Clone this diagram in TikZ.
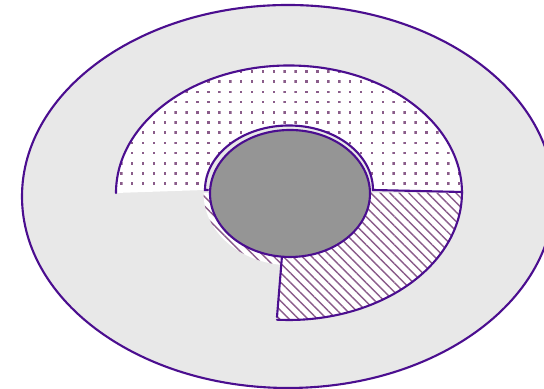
\documentclass[tikz,border=0pt]{standalone}
\usetikzlibrary{patterns.meta, calc}
\definecolor{cline}{HTML}{4B0E8F}
\definecolor{cpat}{HTML}{8A5C8A}
\definecolor{cback}{HTML}{E8E8E8}
\definecolor{ccore}{HTML}{959595}
\tikzdeclarepattern{
  name=sqdots, type=uncolored,
  bounding box={(0,0) and (0.75pt,0.75pt)},
  tile size={(3.1pt,2.9pt)},
  code={\fill (0,0) rectangle (0.75pt,0.75pt);}
}
\tikzset{
  every picture/.style={line width=0.6pt},
  ring/.style={draw=cline, fill=cback},
  core/.style={draw=cline, fill=ccore},
  edge/.style={draw=cline, line cap=round},
  dotsec/.style={fill=white, postaction={pattern=sqdots, pattern color=cpat}},
  hatchsec/.style={fill=white, postaction={pattern={Lines[angle=-45, distance=1.9pt, line width=0.4pt]}, pattern color=cpat}},
}
\begin{document}
\begin{tikzpicture}[x=0.01cm, y=0.01cm]
  \useasboundingbox (0,0) rectangle (544,-389);
  \coordinate (c) at (289,-192.5);
  % outer ring
  \draw[ring] (288,-196.5) ellipse[x radius=266, y radius=191.5];
  % hatched sector
  \path[hatchsec] ($(c)+(173,0)$) arc[start angle=0, end angle=-94, x radius=173, y radius=127.5]
    -- (282,-256) arc[start angle=-85, end angle=0, x radius=80, y radius=63.5] -- cycle;
  \path[hatchsec] (210,-193) arc[start angle=180, end angle=265, x radius=80, y radius=63.5]
    -- (283,-265) arc[start angle=265, end angle=180, x radius=87, y radius=72] -- cycle;
  \draw[edge] ($(c)+(173,0)$) arc[start angle=0, end angle=-94, x radius=173, y radius=127.5];
  \draw[edge] (277,-317) -- (282,-256);
  % dotted sector
  \path[dotsec] (116,-193) arc[start angle=180, end angle=0, x radius=173, y radius=127.5]
    -- (373,-190) arc[start angle=0, end angle=180, x radius=84, y radius=64.5] -- cycle;
  \draw[edge] (116,-193) arc[start angle=180, end angle=0, x radius=173, y radius=127.5];
  \draw[edge] (462,-192) -- (373,-190)
    arc[start angle=0, end angle=180, x radius=84, y radius=64.5] -- ++(3,0);
  % core
  \draw[core] (290,-193.5) ellipse[x radius=80, y radius=63.5];
\end{tikzpicture}
\end{document}
